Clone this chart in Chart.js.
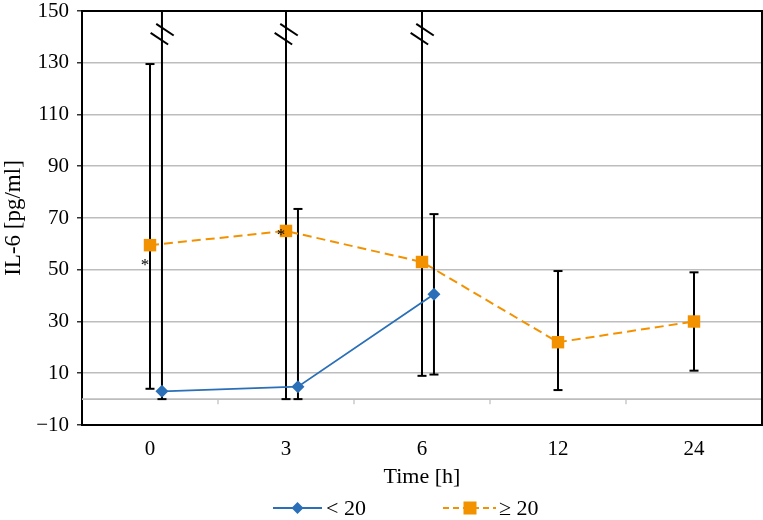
<!DOCTYPE html>
<html><head><meta charset="utf-8">
<script src="https://cdn.jsdelivr.net/npm/chart.js@4/dist/chart.umd.min.js"></script>
<style>html,body{margin:0;padding:0;background:#fff;overflow:hidden}canvas{display:block}</style>
</head><body><canvas id="c" width="763" height="520" style="width:763px;height:520px"></canvas>
<script>
// ---- data ----
const timeLabels = ['0', '3', '6', '12', '24'];
const yTicks = [-10, 10, 30, 50, 70, 90, 110, 130, 150];
const seriesNames = ['< 20', '\u2265 20'];
// group "< 20"
const lowMean = [3, 4.8, 40.5];
const lowErrLow = [0, 0, 9.5];
const lowErrHigh = [150, 73.5, 71.5];
const lowBroken = [true, false, false];
// group ">= 20"
const highMean = [59.5, 65, 53, 22, 30];
const highErrLow = [4, 0, 9, 3.5, 11];
const highErrHigh = [129.5, 150, 150, 49.5, 49];
const highBroken = [false, true, true, false, false];
// asterisks (category index, value)
const starIdx = [0, 1];
const starValues = [53, 64.5];
const breakValue = 141;

// ---- style ----
const FONT = "'Liberation Serif','Times New Roman',serif";
const BLUE = '#2a6fb7', ORANGE = '#f39200';
const SHIFT = 0.088;
const noPad = s => { s.paddingTop = 0; s.paddingBottom = 0; s.paddingLeft = 0; s.paddingRight = 0; };

const errorPlugin = {
  id: 'errorbars',
  beforeDatasetsDraw(chart) {
    const {ctx, chartArea: a, scales: {x, y}} = chart;
    ctx.save();
    // zero line + category dividers
    const y0 = y.getPixelForValue(0);
    ctx.strokeStyle = '#bdbdbd'; ctx.lineWidth = 1.6;
    ctx.beginPath(); ctx.moveTo(a.left, y0); ctx.lineTo(a.right, y0); ctx.stroke();
    ctx.lineWidth = 1.2;
    for (let i = 0; i < timeLabels.length - 1; i++) {
      const xp = x.getPixelForValue(i + 0.5);
      ctx.beginPath(); ctx.moveTo(xp, y0); ctx.lineTo(xp, y0 + 5); ctx.stroke();
    }
    // error bars
    ctx.strokeStyle = '#000'; ctx.lineWidth = 2;
    const bars = (means, lo, hi, broken, shift) => {
      means.forEach((m, i) => {
        const xp = x.getPixelForValue(i + shift);
        const yl = y.getPixelForValue(lo[i]);
        const yh = y.getPixelForValue(hi[i]);
        ctx.beginPath(); ctx.moveTo(xp, yl); ctx.lineTo(xp, yh); ctx.stroke();
        ctx.beginPath(); ctx.moveTo(xp - 4.5, yl); ctx.lineTo(xp + 4.5, yl); ctx.stroke();
        if (!broken[i]) {
          ctx.beginPath(); ctx.moveTo(xp - 4.5, yh); ctx.lineTo(xp + 4.5, yh); ctx.stroke();
        } else {
          const yb = y.getPixelForValue(breakValue);
          const dx = 0.832 * 10.5, dy = 0.555 * 10.5;
          [[3, -4.6], [-2.6, 4.4]].forEach(([ox, oy]) => {
            ctx.beginPath();
            ctx.moveTo(xp + ox - dx, yb + oy - dy);
            ctx.lineTo(xp + ox + dx, yb + oy + dy);
            ctx.stroke();
          });
        }
      });
    };
    bars(highMean, highErrLow, highErrHigh, highBroken, 0);
    bars(lowMean, lowErrLow, lowErrHigh, lowBroken, SHIFT);
    ctx.restore();
  },
  afterDatasetsDraw(chart) {
    const {ctx, chartArea: a, scales: {x, y}} = chart;
    ctx.save();
    // frame top & right
    ctx.strokeStyle = '#000'; ctx.lineWidth = 2;
    ctx.beginPath(); ctx.moveTo(a.left, a.top); ctx.lineTo(a.right, a.top); ctx.lineTo(a.right, a.bottom); ctx.stroke();
    // asterisks
    ctx.fillStyle = '#000'; ctx.font = '17px ' + FONT; ctx.textAlign = 'center'; ctx.textBaseline = 'alphabetic';
    starIdx.forEach((ci, k) => {
      ctx.fillText('*', x.getPixelForValue(ci) - 5, y.getPixelForValue(starValues[k]) + 8);
    });
    ctx.restore();
  },
  afterDraw(chart) {
    const {ctx, chartArea: a} = chart;
    ctx.save();
    const cy = 508;
    const cx = (a.left + a.right) / 2;
    ctx.font = '22px ' + FONT; ctx.fillStyle = '#000'; ctx.textBaseline = 'middle'; ctx.textAlign = 'left';
    // blue item
    let x0 = cx - 149;
    ctx.strokeStyle = BLUE; ctx.lineWidth = 2.2;
    ctx.beginPath(); ctx.moveTo(x0, cy); ctx.lineTo(x0 + 49, cy); ctx.stroke();
    ctx.fillStyle = BLUE;
    ctx.beginPath(); ctx.moveTo(x0 + 24.5, cy - 6); ctx.lineTo(x0 + 30.5, cy); ctx.lineTo(x0 + 24.5, cy + 6); ctx.lineTo(x0 + 18.5, cy); ctx.closePath(); ctx.fill();
    ctx.fillStyle = '#000';
    ctx.fillText(seriesNames[0], x0 + 53, cy + 1);
    // orange item
    x0 = cx + 21;
    ctx.strokeStyle = ORANGE; ctx.lineWidth = 2.2; ctx.setLineDash([6, 4]);
    ctx.beginPath(); ctx.moveTo(x0, cy); ctx.lineTo(x0 + 53, cy); ctx.stroke();
    ctx.setLineDash([]);
    ctx.fillStyle = ORANGE; ctx.fillRect(x0 + 20.5, cy - 6.5, 13, 13);
    ctx.fillStyle = '#000';
    ctx.fillText(seriesNames[1], x0 + 56, cy + 1);
    ctx.restore();
  }
};

new Chart(document.getElementById('c'), {
  type: 'line',
  data: {
    datasets: [
      {
        label: seriesNames[0],
        data: lowMean.map((v, i) => ({x: i + SHIFT, y: v})),
        borderColor: BLUE, backgroundColor: BLUE, borderWidth: 1.8,
        pointStyle: 'rectRot', pointRadius: 6.5, pointBorderWidth: 0, pointBackgroundColor: BLUE,
        tension: 0
      },
      {
        label: seriesNames[1],
        data: highMean.map((v, i) => ({x: i, y: v})),
        borderColor: ORANGE, backgroundColor: ORANGE, borderWidth: 2, borderDash: [9, 5],
        pointStyle: 'rect', pointRadius: 8.8, pointBorderWidth: 0, pointBackgroundColor: ORANGE,
        tension: 0
      }
    ]
  },
  options: {
    responsive: false, animation: false, events: [],
    layout: {autoPadding: false, padding: {top: 11, right: 1, bottom: 30, left: 0}},
    plugins: {legend: {display: false}, tooltip: {enabled: false}},
    scales: {
      x: {
        type: 'linear', min: -0.5, max: 4.5,
        afterBuildTicks: s => { s.ticks = timeLabels.map((_, i) => ({value: i})); },
        afterFit: s => { s.height = 65; noPad(s); },
        ticks: {callback: v => timeLabels[v] ?? '', font: {family: FONT, size: 21, lineHeight: 2.3}, color: '#000', padding: 0, autoSkip: false, maxRotation: 0},
        grid: {display: false, drawTicks: false},
        border: {display: true, color: '#000', width: 2},
        title: {display: true, text: 'Time [h]', font: {family: FONT, size: 22}, color: '#000', padding: 0}
      },
      y: {
        min: -10, max: 150,
        afterBuildTicks: s => { s.ticks = yTicks.map(v => ({value: v})); },
        afterFit: s => { s.width = 82; noPad(s); },
        ticks: {callback: v => v < 0 ? '\u2212' + Math.abs(v) : String(v), font: {family: FONT, size: 21, lineHeight: 1}, color: '#000', padding: 8},
        grid: {color: '#bdbdbd', lineWidth: 1.6, tickColor: '#000', tickLength: 5, tickWidth: 1.2},
        border: {color: '#000', width: 2},
        title: {display: true, text: 'IL-6 [pg/ml]', font: {family: FONT, size: 23}, color: '#000', padding: 0}
      }
    }
  },
  plugins: [errorPlugin]
});
</script>
</body></html>
